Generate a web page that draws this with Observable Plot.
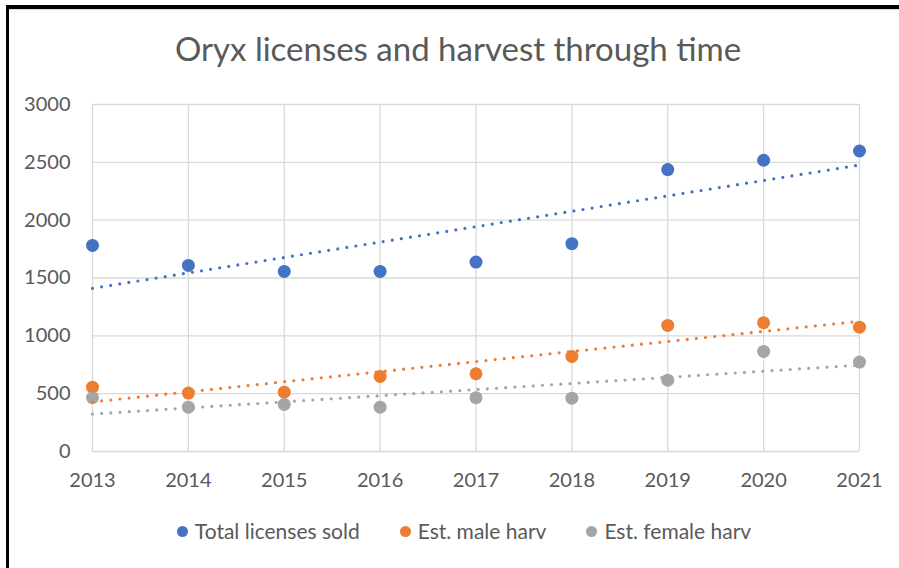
<!DOCTYPE html>
<html>
<head>
<meta charset="utf-8">
<script src="https://cdn.jsdelivr.net/npm/d3@7"></script>
<script src="https://cdn.jsdelivr.net/npm/@observablehq/plot@0.6"></script>
<style>
  html, body { margin: 0; padding: 0; background: #fff; }
  body { width: 899px; height: 568px; position: relative; overflow: hidden; font-family: Lato, "Open Sans", sans-serif; }
  #frame { position: absolute; left: 6px; top: 5px; width: 1000px; height: 1000px; border-left: 3px solid #000; border-top: 4px solid #000; }
  #inner { position: absolute; left: 9px; top: 9px; width: 1000px; height: 1px; background: #d9d9d9; }
  #title { position: absolute; left: 0; width: 916px; top: 28px; text-align: center; font-size: 33px; color: #595959; }
  #chart { position: absolute; left: 0; top: 0; }
  #legend { position: absolute; left: 0; top: 517px; width: 928px; display: flex; justify-content: center; font-size: 21px; color: #595959; line-height: 28px; }
  .item { display: inline-flex; align-items: center; margin: 0 20px; white-space: nowrap; }
  .sw { display: inline-block; width: 11px; height: 11px; border-radius: 50%; margin-right: 7px; }
</style>
</head>
<body>
<div id="frame"></div>
<div id="inner"></div>
<div id="chart"></div>
<div id="title">Oryx licenses and harvest through time</div>
<div id="legend"></div>
<script>
const years = [2013, 2014, 2015, 2016, 2017, 2018, 2019, 2020, 2021];
const totalLicenses = [1782, 1609, 1557, 1557, 1638, 1797, 2437, 2518, 2598];
const maleHarvest = [556, 505, 513, 649, 672, 822, 1090, 1113, 1075];
const femaleHarvest = [465, 383, 407, 383, 465, 461, 617, 865, 773];
const seriesNames = ["Total licenses sold", "Est. male harv", "Est. female harv"];
const seriesColors = ["#4472C4", "#ED7D31", "#A5A5A5"];
const yTicks = [0, 500, 1000, 1500, 2000, 2500, 3000];

const seriesValues = [totalLicenses, maleHarvest, femaleHarvest];
const data = [];
seriesNames.forEach((name, i) => {
  years.forEach((yr, j) => data.push({series: name, year: yr, value: seriesValues[i][j]}));
});

const plot = Plot.plot({
  width: 899,
  height: 500,
  marginLeft: 92,
  marginRight: 40,
  marginTop: 104,
  marginBottom: 49,
  style: {fontFamily: "Lato, 'Open Sans', sans-serif", fontSize: "20px", color: "#595959", background: "transparent"},
  x: {domain: [2013, 2021], label: null},
  y: {domain: [0, 3000], label: null},
  color: {domain: seriesNames, range: seriesColors},
  marks: [
    Plot.gridX(years, {stroke: "#d9d9d9", strokeOpacity: 1, strokeWidth: 1.3}),
    Plot.gridY(yTicks, {stroke: "#d9d9d9", strokeOpacity: 1, strokeWidth: 1.3}),
    Plot.axisX({ticks: years, tickFormat: d3.format("d"), tickSize: 0, tickPadding: 21, fill: "#595959", label: null}),
    Plot.axisY({ticks: yTicks, tickFormat: d3.format("d"), tickSize: 0, tickPadding: 22, fill: "#595959", label: null}),
    Plot.dot(data, {x: "year", y: "value", fill: "series", r: 6.5}),
    Plot.linearRegressionY(data, {x: "year", y: "value", stroke: "series", ci: 0, strokeWidth: 3.2, strokeDasharray: "0 9.2", strokeLinecap: "round"})
  ]
});
document.getElementById("chart").appendChild(plot);

const legend = document.getElementById("legend");
seriesNames.forEach((name, i) => {
  const item = document.createElement("span");
  item.className = "item";
  const sw = document.createElement("span");
  sw.className = "sw";
  sw.style.background = seriesColors[i];
  item.appendChild(sw);
  item.appendChild(document.createTextNode(name));
  legend.appendChild(item);
});
</script>
</body>
</html>
